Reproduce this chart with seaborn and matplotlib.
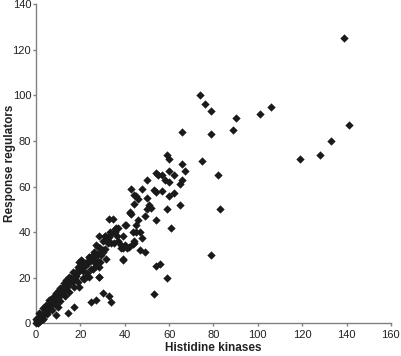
import matplotlib
matplotlib.use("Agg")
import matplotlib.pyplot as plt
import seaborn as sns
import pandas as pd

# Histidine kinases (x) and response regulators (y) per genome
hk = [139, 141, 133, 128, 119, 106, 101, 90, 89, 74, 76, 79, 79, 66, 75, 82, 83, 79,
      59, 60, 66, 67, 60, 62, 57, 58, 60, 66, 65, 57, 62, 60, 65, 59, 61, 56, 59,
      54, 55, 50, 43, 48, 53, 54, 45, 46, 50, 44, 44, 51, 52, 50, 42.6, 43, 49, 54, 46,
      32.7, 34.6, 45, 40.7, 37, 35.7, 45, 47, 39, 48, 44, 44.4, 31.2, 28.6, 32.4, 35,
      38.4, 40.2, 38.4, 42, 47, 49, 39, 30, 31, 31.6, 29.4, 54, 53, 28.6, 30, 33, 34,
      27, 27.8, 20.3, 20.6, 23.3, 24.8, 18.8, 16.5, 15, 13.5, 12, 10.5, 9, 7.5, 6,
      4.5, 3, 1.4, 0.7, 0.3, 28.3, 24, 28.3, 24.8, 27, 17.3, 14.3, 9,
      42.5, 35.8, 40, 43.7, 30.9, 34, 39, 41, 43.7, 30.1, 25, 26, 24, 27, 28, 39.1, 19.5,
      18, 12.5, 11, 9.7, 6.3, 19.6, 21, 22, 25.5, 26.5, 23, 21.5, 17, 16, 14, 13, 11.5,
      10, 8, 7, 8.5, 5, 5.5, 4, 3.5, 2, 2.5, 1, 0, 0, 1, 2, 0.5, 1.5, 3, 4, 5, 6.5, 7,
      8, 9.5, 11, 12.5, 14, 15.5, 17, 18.5, 20, 22, 23.5, 25, 26.5, 29, 21.5, 19, 16.5,
      36.5, 33.5,
      2, 4, 6, 8, 10, 12, 14, 16, 18, 20, 22, 24, 26, 28, 30, 3, 5, 7, 9, 11, 13, 15,
      17, 19, 21, 23, 25, 27, 29, 6, 10, 14, 18, 22, 26, 32, 34, 36, 37, 33]
rr = [125, 87, 80, 74, 72, 95, 92, 90, 85, 100, 96, 93, 83, 84, 71, 65, 50, 30,
      74, 72, 70, 67, 67, 65, 65, 63, 62, 63, 61, 58, 57, 56, 52, 50, 42, 26, 20,
      66, 65, 63, 59, 59, 58.6, 57.5, 56, 54.5, 55, 56.4, 52.4, 52, 50.5, 50, 49, 48, 47, 45.4, 45.4,
      46, 46, 43, 43, 42, 40.3, 40.3, 40.3, 38.4, 37.4, 36.3, 35.2, 38.4, 38.4, 35.2, 35.4,
      34.4, 34.4, 33, 33.4, 32.2, 31.2, 28.3, 31.5, 32.6, 28.3, 30, 25, 13, 20.3, 13.2, 12.2, 9.3,
      34.4, 30.5, 27.9, 27.3, 26.4, 29.3, 24.9, 22.7, 20.5, 19.1, 16.1, 14.7, 13.2, 11.8, 10.3,
      8.1, 6.6, 4.5, 2.3, 0.9, 20.5, 20.3, 24.6, 9.6, 10.3, 7.4, 4.5, 3.7,
      48.3, 41.3, 43, 40.3, 38.4, 35.3, 33, 33, 35, 32.2, 28, 27, 29, 26.5, 27.5, 27.8, 27,
      22, 17.8, 15.5, 7.4, 10.3, 16.1, 23, 25, 24, 29.5, 21, 19.5, 20, 18, 17, 15.5, 13.5,
      12.5, 9.5, 8.5, 11, 6, 7.5, 5, 4, 2.5, 3.5, 1, 0, 2, 0, 1, 1.5, 3, 2, 4.5, 5, 7, 9,
      10, 11, 12.5, 14.5, 16.5, 18, 19.5, 22, 23.5, 26, 27.5, 29, 31, 33, 25.5, 22.5, 18.5,
      38.5, 40,
      4, 6, 8.5, 11, 13, 15.5, 17, 20, 22.5, 24, 26.5, 29, 31.5, 33.5, 36, 2, 4, 6, 8, 10,
      12, 14, 16, 18, 20, 22, 24, 25, 27, 7, 11, 16, 21, 25.5, 29.5, 37, 39, 42, 36, 38]

x_ticks = [0, 20, 40, 60, 80, 100, 120, 140, 160]
y_ticks = [0, 20, 40, 60, 80, 100, 120, 140]
x_label = "Histidine kinases"
y_label = "Response regulators"

df = pd.DataFrame({"hk": hk, "rr": rr})

sns.set_style("ticks")
plt.rcParams["font.family"] = ["Liberation Sans", "DejaVu Sans"]

fig = plt.figure(figsize=(4.01, 3.56), dpi=100)
ax = fig.add_axes([0.0898, 0.0913, 0.885, 0.8975])

sns.scatterplot(data=df, x="hk", y="rr", marker="D", s=18, color="#1a1a1a",
                linewidth=0, ax=ax, clip_on=False, zorder=3)

ax.set_xlim(0, 160)
ax.set_ylim(0, 140)
ax.set_xticks(x_ticks)
ax.set_yticks(y_ticks)
ax.tick_params(axis="both", labelsize=8, labelcolor="#222222", color="#808080",
               length=2.5, width=1)
ax.tick_params(axis="y", pad=1)
ax.tick_params(axis="x", pad=2)
for side in ["top", "right"]:
    ax.spines[side].set_visible(False)
for side in ["left", "bottom"]:
    ax.spines[side].set_color("#808080")
    ax.spines[side].set_linewidth(1)

ax.set_xlabel(x_label, fontsize=8.5, fontweight="bold", color="#222222")
ax.set_ylabel(y_label, fontsize=8.5, fontweight="bold", color="#222222")
ax.xaxis.set_label_coords(0.5, -0.058)
ax.yaxis.set_label_coords(-0.056, 0.5)

fig.savefig("out.png", dpi=100)
